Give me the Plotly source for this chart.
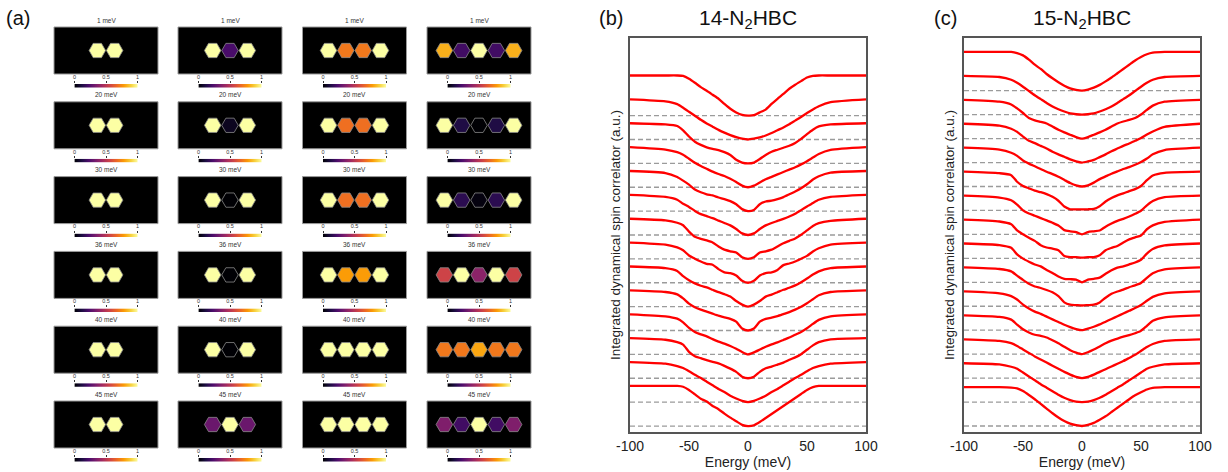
import numpy as np
import plotly.graph_objects as go

W, H = 1228, 472
FONT = "Arial, Liberation Sans, sans-serif"

# ---------------- panel (a): local spin-correlator maps ----------------
MAP_ENERGIES = ["1 meV", "20 meV", "30 meV", "36 meV", "40 meV", "45 meV"]
# normalised value of each hexagon; one list per energy row
CHAIN_2 = [[1, 1], [1, 1], [1, 1], [1, 1], [1, 1], [1, 1]]
CHAIN_3 = [[1, 0.22, 1], [1, 0.05, 1], [1, 0.0, 1], [1, 0.0, 1], [1, 0.0, 1], [0.3, 1, 0.3]]
CHAIN_4 = [[1, 0.7, 0.7, 1], [1, 0.68, 0.68, 1], [1, 0.68, 0.68, 1],
           [1, 0.78, 0.78, 1], [1, 1, 1, 1], [1, 1, 1, 1]]
CHAIN_5 = [[0.82, 0.2, 1, 0.2, 0.82], [1, 0.12, 0.0, 0.12, 1], [1, 0.15, 0.02, 0.15, 1],
           [0.55, 1, 0.38, 1, 0.55], [0.7, 0.7, 0.8, 0.7, 0.7], [0.35, 0.2, 1, 0.2, 0.35]]
CHAINS = [CHAIN_2, CHAIN_3, CHAIN_4, CHAIN_5]
BAR_TICKS = [0, 0.5, 1]
BAR_LABELS = ["0", "0.5", "1"]

# ---------------- panels (b), (c): integrated correlator curves ----------------
ENERGY = [-100, -70, -60, -55, -50, -45, -40, -35, -30, -25, -20, -15, -10, -5, 0,
          5, 10, 15, 20, 25, 30, 35, 40, 45, 50, 55, 60, 70, 100]

# 14-N2HBC, listed from the top curve downwards (fraction of the plateau value)
CORR_14 = [
    [1, 1, 1, 0.99, 0.92, 0.82, 0.71, 0.62, 0.52, 0.42, 0.29, 0.17, 0.08, 0.02, 0,
     0.01, 0.08, 0.15, 0.29, 0.42, 0.54, 0.67, 0.77, 0.86, 0.95, 0.99, 1, 1, 1],
    [1, 0.95, 0.88, 0.79, 0.69, 0.59, 0.49, 0.40, 0.32, 0.24, 0.17, 0.11, 0.06, 0.02, 0,
     0.02, 0.05, 0.10, 0.16, 0.23, 0.30, 0.38, 0.47, 0.56, 0.66, 0.75, 0.83, 0.93, 1],
    [1, 0.97, 0.93, 0.82, 0.67, 0.54, 0.46, 0.40, 0.36, 0.33, 0.28, 0.21, 0.09, 0.02, 0,
     0.02, 0.11, 0.21, 0.29, 0.34, 0.39, 0.44, 0.51, 0.61, 0.73, 0.84, 0.92, 0.97, 1],
    [1, 0.94, 0.875, 0.81, 0.71, 0.61, 0.53, 0.46, 0.39, 0.33, 0.28, 0.21, 0.13, 0.04, 0,
     0.04, 0.12, 0.20, 0.26, 0.32, 0.38, 0.44, 0.50, 0.57, 0.65, 0.74, 0.83, 0.93, 1],
    [1, 0.95, 0.85, 0.76, 0.66, 0.54, 0.47, 0.42, 0.39, 0.34, 0.30, 0.25, 0.17, 0.05, 0,
     0.03, 0.17, 0.24, 0.26, 0.30, 0.35, 0.42, 0.49, 0.57, 0.67, 0.79, 0.87, 0.96, 1],
    [1, 0.95, 0.88, 0.78, 0.70, 0.60, 0.52, 0.47, 0.42, 0.36, 0.30, 0.24, 0.15, 0.04, 0,
     0.04, 0.15, 0.24, 0.30, 0.35, 0.40, 0.46, 0.53, 0.62, 0.71, 0.80, 0.88, 0.95, 1],
    [1, 0.96, 0.90, 0.84, 0.68, 0.55, 0.50, 0.46, 0.41, 0.31, 0.23, 0.19, 0.16, 0.04, 0,
     0.04, 0.16, 0.19, 0.23, 0.31, 0.39, 0.45, 0.51, 0.60, 0.71, 0.82, 0.89, 0.95, 1],
    [1, 0.95, 0.88, 0.81, 0.68, 0.60, 0.53, 0.47, 0.45, 0.34, 0.26, 0.24, 0.18, 0.05, 0,
     0.05, 0.18, 0.24, 0.26, 0.32, 0.44, 0.48, 0.53, 0.60, 0.67, 0.78, 0.86, 0.95, 1],
    [1, 0.96, 0.89, 0.76, 0.66, 0.58, 0.52, 0.48, 0.42, 0.36, 0.31, 0.25, 0.14, 0.05, 0,
     0.05, 0.14, 0.25, 0.30, 0.36, 0.42, 0.47, 0.53, 0.61, 0.70, 0.80, 0.88, 0.96, 1],
    [1, 0.96, 0.90, 0.80, 0.67, 0.58, 0.52, 0.47, 0.42, 0.37, 0.33, 0.29, 0.22, 0.05, 0,
     0.05, 0.22, 0.29, 0.32, 0.36, 0.41, 0.46, 0.52, 0.59, 0.68, 0.78, 0.88, 0.96, 1],
    [1, 0.95, 0.89, 0.80, 0.66, 0.56, 0.50, 0.45, 0.38, 0.32, 0.27, 0.21, 0.14, 0.06, 0,
     0.05, 0.12, 0.19, 0.25, 0.30, 0.36, 0.42, 0.49, 0.56, 0.65, 0.76, 0.86, 0.95, 1],
    [1, 0.96, 0.90, 0.84, 0.66, 0.55, 0.50, 0.45, 0.41, 0.37, 0.31, 0.24, 0.16, 0.04, 0,
     0.04, 0.16, 0.25, 0.29, 0.34, 0.39, 0.46, 0.52, 0.60, 0.71, 0.82, 0.90, 0.97, 1],
    [1, 0.96, 0.90, 0.85, 0.77, 0.68, 0.60, 0.51, 0.42, 0.33, 0.25, 0.16, 0.09, 0.03, 0,
     0.03, 0.09, 0.16, 0.25, 0.33, 0.42, 0.51, 0.60, 0.68, 0.77, 0.85, 0.90, 0.96, 1],
    [1, 1, 1, 0.98, 0.90, 0.79, 0.68, 0.61, 0.50, 0.42, 0.31, 0.21, 0.12, 0.03, 0,
     0.02, 0.10, 0.20, 0.30, 0.40, 0.50, 0.60, 0.70, 0.80, 0.90, 0.97, 1, 1, 1],
]

# 15-N2HBC, listed from the top curve downwards
CORR_15 = [
    [1, 1, 1, 0.97, 0.91, 0.80, 0.67, 0.56, 0.43, 0.32, 0.22, 0.13, 0.06, 0.02, 0,
     0.03, 0.08, 0.15, 0.24, 0.34, 0.45, 0.56, 0.67, 0.78, 0.87, 0.94, 0.98, 1, 1],
    [1, 0.97, 0.90, 0.82, 0.72, 0.61, 0.50, 0.40, 0.30, 0.21, 0.14, 0.08, 0.03, 0.01, 0,
     0.01, 0.03, 0.08, 0.14, 0.21, 0.30, 0.40, 0.50, 0.61, 0.72, 0.82, 0.90, 0.97, 1],
    [1, 0.95, 0.88, 0.78, 0.66, 0.53, 0.47, 0.43, 0.39, 0.31, 0.23, 0.16, 0.10, 0.04, 0,
     0.04, 0.10, 0.16, 0.23, 0.31, 0.39, 0.44, 0.48, 0.53, 0.62, 0.74, 0.85, 0.95, 1],
    [1, 0.95, 0.87, 0.79, 0.67, 0.56, 0.50, 0.43, 0.36, 0.28, 0.21, 0.15, 0.08, 0.03, 0,
     0.03, 0.07, 0.14, 0.21, 0.29, 0.36, 0.43, 0.49, 0.56, 0.63, 0.72, 0.80, 0.92, 1],
    [1, 0.95, 0.87, 0.79, 0.67, 0.59, 0.52, 0.45, 0.38, 0.32, 0.25, 0.17, 0.09, 0.03, 0,
     0.03, 0.10, 0.19, 0.26, 0.33, 0.39, 0.45, 0.50, 0.56, 0.63, 0.72, 0.83, 0.94, 1],
    [1, 0.96, 0.91, 0.74, 0.63, 0.57, 0.51, 0.47, 0.42, 0.35, 0.25, 0.10, 0.03, 0.03, 0.03,
     0.03, 0.04, 0.11, 0.23, 0.32, 0.39, 0.44, 0.50, 0.55, 0.63, 0.78, 0.90, 0.97, 1],
    [1, 0.95, 0.88, 0.77, 0.62, 0.54, 0.48, 0.42, 0.36, 0.30, 0.23, 0.11, 0.08, 0.06, 0,
     0.06, 0.08, 0.10, 0.20, 0.28, 0.35, 0.40, 0.46, 0.53, 0.61, 0.75, 0.86, 0.96, 1],
    [1, 0.95, 0.88, 0.72, 0.62, 0.53, 0.45, 0.34, 0.28, 0.25, 0.21, 0.06, 0.03, 0.03, 0.02,
     0.03, 0.03, 0.08, 0.21, 0.27, 0.32, 0.41, 0.49, 0.54, 0.59, 0.75, 0.85, 0.94, 1],
    [1, 0.96, 0.89, 0.72, 0.61, 0.53, 0.46, 0.41, 0.32, 0.24, 0.15, 0.09, 0.08, 0.07, 0,
     0.07, 0.09, 0.12, 0.22, 0.31, 0.38, 0.41, 0.46, 0.51, 0.58, 0.74, 0.86, 0.95, 1],
    [1, 0.96, 0.90, 0.79, 0.68, 0.58, 0.51, 0.47, 0.42, 0.36, 0.26, 0.10, 0.04, 0.03, 0.02,
     0.03, 0.04, 0.10, 0.22, 0.32, 0.38, 0.43, 0.49, 0.54, 0.60, 0.73, 0.85, 0.95, 1],
    [1, 0.95, 0.88, 0.79, 0.66, 0.56, 0.48, 0.42, 0.35, 0.28, 0.21, 0.14, 0.08, 0.03, 0,
     0.04, 0.09, 0.15, 0.22, 0.29, 0.36, 0.43, 0.50, 0.57, 0.65, 0.76, 0.86, 0.95, 1],
    [1, 0.96, 0.89, 0.76, 0.64, 0.56, 0.50, 0.47, 0.43, 0.36, 0.28, 0.19, 0.10, 0.04, 0,
     0.05, 0.12, 0.20, 0.28, 0.35, 0.40, 0.45, 0.49, 0.54, 0.60, 0.73, 0.86, 0.95, 1],
    [1, 0.96, 0.90, 0.83, 0.74, 0.65, 0.56, 0.48, 0.40, 0.32, 0.24, 0.16, 0.09, 0.03, 0,
     0.03, 0.09, 0.16, 0.23, 0.30, 0.37, 0.44, 0.52, 0.60, 0.70, 0.80, 0.88, 0.96, 1],
    [1, 0.97, 0.91, 0.86, 0.76, 0.66, 0.56, 0.46, 0.37, 0.28, 0.19, 0.11, 0.05, 0.01, 0,
     0.01, 0.05, 0.11, 0.19, 0.28, 0.37, 0.46, 0.56, 0.66, 0.76, 0.86, 0.91, 0.97, 1],
    [1, 1, 0.99, 0.97, 0.90, 0.80, 0.69, 0.57, 0.45, 0.33, 0.22, 0.13, 0.06, 0.02, 0,
     0.03, 0.08, 0.16, 0.25, 0.36, 0.47, 0.58, 0.69, 0.79, 0.87, 0.94, 0.98, 1, 1],
]
PLATEAU_14 = 1.68   # plateau height in units of the curve spacing
PLATEAU_15 = 1.62
E_TICKS = [-100, -50, 0, 50, 100]

# ---------------- layout helpers ----------------
fig = go.Figure()
layout = dict(
    width=W, height=H, margin=dict(l=0, r=0, t=0, b=0, autoexpand=False),
    paper_bgcolor="white", plot_bgcolor="white", showlegend=False,
    font=dict(family=FONT, color="#222"),
)
shapes, annotations = [], []


def px_x(a, b):
    return [a / W, b / W]


def px_y(top, bottom):
    return [1 - bottom / H, 1 - top / H]


axis_no = [0]


def new_axes(xdom, ydom, xopts, yopts):
    axis_no[0] += 1
    n = axis_no[0]
    sfx = "" if n == 1 else str(n)
    layout["xaxis" + sfx] = dict(domain=xdom, anchor="y" + sfx, automargin=False, **xopts)
    layout["yaxis" + sfx] = dict(domain=ydom, anchor="x" + sfx, automargin=False, **yopts)
    return "x" + sfx, "y" + sfx


blank = dict(showgrid=False, zeroline=False, showticklabels=False, ticks="", fixedrange=True)

TILE_LEFT = [54, 178, 302.5, 427]
TILE_W, TILE_H = 104, 47
ROW_TOP = [27 + 74.8 * r for r in range(6)]
gradient = np.linspace(0, 1, 128)

for r, label in enumerate(MAP_ENERGIES):
    top = ROW_TOP[r]
    for c, chain in enumerate(CHAINS):
        vals = chain[r]
        left = TILE_LEFT[c]
        xa, ya = new_axes(px_x(left, left + TILE_W), px_y(top, top + TILE_H),
                          dict(blank, range=[-3, 3]), dict(blank, range=[-1, 1]))
        shapes.append(dict(type="rect", xref=xa + " domain", yref=ya + " domain",
                           x0=0, x1=1, y0=0, y1=1, fillcolor="black",
                           line=dict(color="#9a9a9a", width=1), layer="below"))
        pos = [i - (len(vals) - 1) / 2 for i in range(len(vals))]
        fig.add_trace(go.Scatter(
            x=pos, y=[0] * len(vals), xaxis=xa, yaxis=ya, mode="markers",
            marker=dict(symbol="hexagon2", size=16.5, color=vals, colorscale="Inferno",
                        cmin=0, cmax=1, line=dict(color="#8a8a8a", width=0.8)),
            hoverinfo="skip"))
        annotations.append(dict(text=label, x=(left + TILE_W / 2) / W, y=1 - (top - 1.5) / H,
                                xref="paper", yref="paper", xanchor="center", yanchor="bottom",
                                showarrow=False, font=dict(size=6.5, color="#333")))
        # colour bar under each map
        bx0 = left + 20.5
        bt = top + TILE_H + 10
        xb, yb = new_axes(px_x(bx0, bx0 + 63), px_y(bt, bt + 3.5),
                          dict(showgrid=False, zeroline=False, range=[0, 1], side="top",
                               tickvals=BAR_TICKS, ticktext=BAR_LABELS, ticks="outside",
                               ticklen=2, tickwidth=0.6, tickcolor="#333",
                               tickfont=dict(size=5.5, color="#333"), fixedrange=True),
                          dict(blank, range=[-0.5, 0.5]))
        fig.add_trace(go.Heatmap(z=[gradient], x=gradient, y=[0], colorscale="Inferno",
                                 zmin=0, zmax=1, showscale=False, xaxis=xb, yaxis=yb,
                                 hoverinfo="skip"))

# ---------------- panels (b) and (c) ----------------
PANELS = [
    dict(curves=CORR_14, amp=PLATEAU_14, left=630, right=866, yr=[-0.25, 16.25],
         title="14-N<sub>2</sub>HBC", tag="(b)", tag_x=597),
    dict(curves=CORR_15, amp=PLATEAU_15, left=964, right=1200, yr=[-0.25, 16.2],
         title="15-N<sub>2</sub>HBC", tag="(c)", tag_x=932),
]
for p in PANELS:
    xa, ya = new_axes(
        px_x(p["left"], p["right"]), px_y(38, 432),
        dict(range=[-100, 100], tickvals=E_TICKS, ticktext=[str(v) for v in E_TICKS],
             ticks="", showgrid=False, zeroline=False, showline=True, mirror=True,
             linecolor="#555", linewidth=1.5, tickfont=dict(size=14, color="#222"),
             title=dict(text="Energy (meV)", font=dict(size=14, color="#222"), standoff=2),
             fixedrange=True),
        dict(range=p["yr"], showticklabels=False, ticks="", showgrid=False, zeroline=False,
             showline=True, mirror=True, linecolor="#555", linewidth=1.5,
             title=dict(text="Integrated dynamical spin correlator (a.u.)",
                        font=dict(size=13.5, color="#222"), standoff=5),
             fixedrange=True))
    n = len(p["curves"])
    for i, curve in enumerate(p["curves"]):
        off = n - 1 - i
        fig.add_trace(go.Scatter(x=[-100, 100], y=[off, off], xaxis=xa, yaxis=ya,
                                 mode="lines", hoverinfo="skip",
                                 line=dict(color="#9b9b9b", width=1.3, dash="5px,3px")))
    for i, curve in enumerate(p["curves"]):
        off = n - 1 - i
        fig.add_trace(go.Scatter(x=ENERGY, y=[off + p["amp"] * v for v in curve],
                                 xaxis=xa, yaxis=ya, mode="lines", hoverinfo="skip",
                                 line=dict(color="#ff0000", width=2.3, shape="spline",
                                           smoothing=0.55)))
    annotations.append(dict(text=p["title"], x=(p["left"] + p["right"]) / 2 / W, y=1 - 19 / H,
                            xref="paper", yref="paper", xanchor="center", yanchor="middle",
                            showarrow=False, font=dict(size=21, color="#111")))
    annotations.append(dict(text=p["tag"], x=p["tag_x"] / W, y=1 - 18 / H, xref="paper",
                            yref="paper", xanchor="left", yanchor="middle", showarrow=False,
                            font=dict(size=20, color="#111")))

annotations.append(dict(text="(a)", x=4 / W, y=1 - 18 / H, xref="paper", yref="paper",
                        xanchor="left", yanchor="middle", showarrow=False,
                        font=dict(size=20, color="#111")))

layout["shapes"] = shapes
layout["annotations"] = annotations
fig.update_layout(**layout)
fig.write_html("out.html")
